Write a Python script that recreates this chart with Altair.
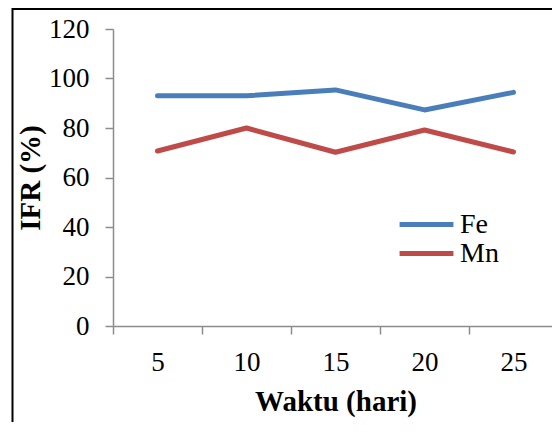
import altair as alt
import pandas as pd

days = ["5", "10", "15", "20", "25"]
fe = [93.0, 93.0, 95.4, 87.3, 94.4]
mn = [70.7, 80.0, 70.2, 79.2, 70.3]
series = ["Fe", "Mn"]
colors = ["#4A7EBB", "#BE4B48"]

rows = []
for d, v in zip(days, fe):
    rows.append({"Waktu": d, "IFR": v, "Unsur": "Fe"})
for d, v in zip(days, mn):
    rows.append({"Waktu": d, "IFR": v, "Unsur": "Mn"})
df = pd.DataFrame(rows)

W, H = 445, 297
FONT = "Times New Roman"
GRAY = "#8C8C8C"

border = alt.Chart(pd.DataFrame({"k": [0]})).mark_rect(
    fill="transparent", stroke="black", strokeWidth=2, clip=False
).encode(
    x=alt.value(-100.5), x2=alt.value(W + 30),
    y=alt.value(-20), y2=alt.value(H + 130)
)

lines = alt.Chart(df).mark_line(strokeWidth=5, strokeCap="round", strokeJoin="round").encode(
    x=alt.X("Waktu:O", sort=days, title="Waktu (hari)",
            scale=alt.Scale(paddingInner=0, paddingOuter=0),
            axis=alt.Axis(labelAngle=0, tickBand="extent", labelPadding=15,
                          titlePadding=12)),
    y=alt.Y("IFR:Q", title="IFR (%)",
            scale=alt.Scale(domain=[0, 120], nice=False),
            axis=alt.Axis(values=[0, 20, 40, 60, 80, 100, 120], grid=False,
                          labelPadding=16, titlePadding=3)),
    color=alt.Color("Unsur:N", sort=series,
                    scale=alt.Scale(domain=series, range=colors),
                    legend=alt.Legend(title=None, orient="none", legendX=284, legendY=182,
                                      symbolType="stroke", symbolSize=2900,
                                      symbolStrokeWidth=5, labelFontSize=28,
                                      labelFont=FONT, labelColor="black",
                                      labelOffset=4, rowPadding=0, clipHeight=27,
                                      symbolOffset=0, padding=0)),
)

chart = alt.layer(border, lines).properties(
    width=W, height=H,
    autosize=alt.AutoSizeParams(type="none"),
    padding={"left": 105, "top": 21, "right": -6, "bottom": 96},
).configure(font=FONT).configure_view(stroke=None).configure_axis(
    labelFont=FONT, labelFontSize=27, labelColor="black",
    titleFont=FONT, titleFontSize=29, titleFontWeight="bold", titleColor="black",
    domainColor=GRAY, tickColor=GRAY, domainWidth=1.5, tickWidth=1.5, tickSize=8,
)

chart.save("out.html", embed_options={"renderer": "svg", "actions": False})
